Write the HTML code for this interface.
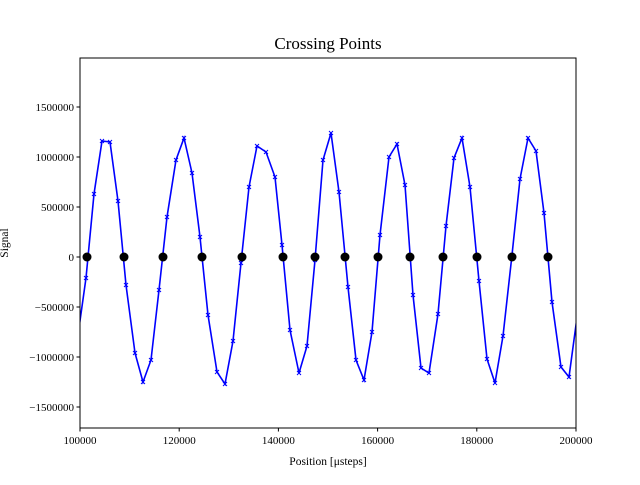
<!DOCTYPE html>
<html><head><meta charset="utf-8"><style>
body{margin:0;background:#fff}
svg text{font-family:"Liberation Serif",serif;fill:#000}
</style></head><body>
<svg id="chart" width="640" height="480" xmlns="http://www.w3.org/2000/svg">
<defs><clipPath id="pc"><rect x="80" y="58" width="496" height="370"/></clipPath></defs>
<rect x="0" y="0" width="640" height="480" fill="#fff"/>
<text x="328" y="49" text-anchor="middle" font-size="17">Crossing Points</text>
<text x="328" y="465" text-anchor="middle" font-size="11.5">Position [μsteps]</text>
<text transform="translate(8,243) rotate(-90)" text-anchor="middle" font-size="11.5">Signal</text>
<g id="ticks"></g>
<g id="marks" clip-path="url(#pc)"></g>
<rect x="80" y="58" width="496" height="370" fill="none" stroke="#000" stroke-width="1"/>
</svg>
<script>
const xTicks = [100000, 120000, 140000, 160000, 180000, 200000];
const yTicks = [-1500000, -1000000, -500000, 0, 500000, 1000000, 1500000];
const sigX = [99597,101210,102823,104435,106048,107661,109274,111089,112702,114315,115927,117540,119355,120968,122581,124194,125806,127621,129234,130847,132460,134073,135685,137500,139315,140726,142339,144153,145766,147379,148992,150605,152218,154032,155645,157258,158871,160484,162298,163911,165524,167137,168750,170363,172177,173790,175403,177016,178629,180444,182056,183669,185282,187097,188710,190323,191935,193548,195161,196976,198589,200403];
const sigY = [-780000,-210000,630000,1160000,1150000,560000,-280000,-960000,-1250000,-1030000,-330000,400000,970000,1190000,840000,200000,-580000,-1150000,-1270000,-840000,-60000,700000,1110000,1050000,800000,120000,-730000,-1160000,-890000,-30000,970000,1240000,650000,-300000,-1030000,-1230000,-750000,220000,1000000,1130000,720000,-380000,-1110000,-1160000,-570000,310000,990000,1190000,700000,-240000,-1020000,-1260000,-790000,20000,780000,1190000,1060000,440000,-450000,-1100000,-1200000,-530000];
const crossX = [101411,108871,116734,124597,132661,140927,147379,153427,160081,166532,173185,180040,187097,194355];
const crossY = [0,0,0,0,0,0,0,0,0,0,0,0,0,0];

const NS = "http://www.w3.org/2000/svg";
const X0=80, X1=576, Y0=58, Y1=428;
const xMin=100000, xMax=200000, yMin=-1710000, yMax=1990000;
function sx(v){return X0+(v-xMin)/(xMax-xMin)*(X1-X0);}
function sy(v){return Y1-(v-yMin)/(yMax-yMin)*(Y1-Y0);}
const ticks=document.getElementById('ticks');
const marks=document.getElementById('marks');
function mk(tag,attrs,parent){const e=document.createElementNS(NS,tag);for(const k in attrs)e.setAttribute(k,attrs[k]);parent.appendChild(e);return e;}

xTicks.forEach(v=>{
  const x=sx(v);
  const l=mk('line',{x1:x,x2:x,y1:Y1,y2:Y1+3.5,stroke:'#000'},ticks);
  
  
  const t=mk('text',{x:x,y:Y1+16,'text-anchor':'middle','font-size':'11'},ticks);
  t.textContent=v;
  
  
});
yTicks.forEach(v=>{
  const y=sy(v);
  const l=mk('line',{x1:X0-3.5,x2:X0,y1:y,y2:y,stroke:'#000'},ticks);
  
  
  const t=mk('text',{x:X0-6,y:y+4,'text-anchor':'end','font-size':'11'},ticks);
  t.textContent=String(v).replace('-','\u2212');
  
  
});

const pts=sigX.map((v,i)=>sx(v).toFixed(1)+','+sy(sigY[i]).toFixed(1)).join(' ');
const line=mk('polyline',{points:pts,fill:'none',stroke:'#0000ff','stroke-width':'1.6'},marks);


sigX.forEach((v,i)=>{
  const x=sx(v), y=sy(sigY[i]), s=2;
  const p=mk('path',{d:`M${x-s},${y-s}L${x+s},${y+s}M${x-s},${y+s}L${x+s},${y-s}`,stroke:'#0000ff','stroke-width':'1'},marks);
  
  
});
crossX.forEach((v,i)=>{
  const c=mk('circle',{cx:sx(v),cy:sy(crossY[i]),r:4.5,fill:'#000'},marks);
  
  
});
</script>
</body></html>
